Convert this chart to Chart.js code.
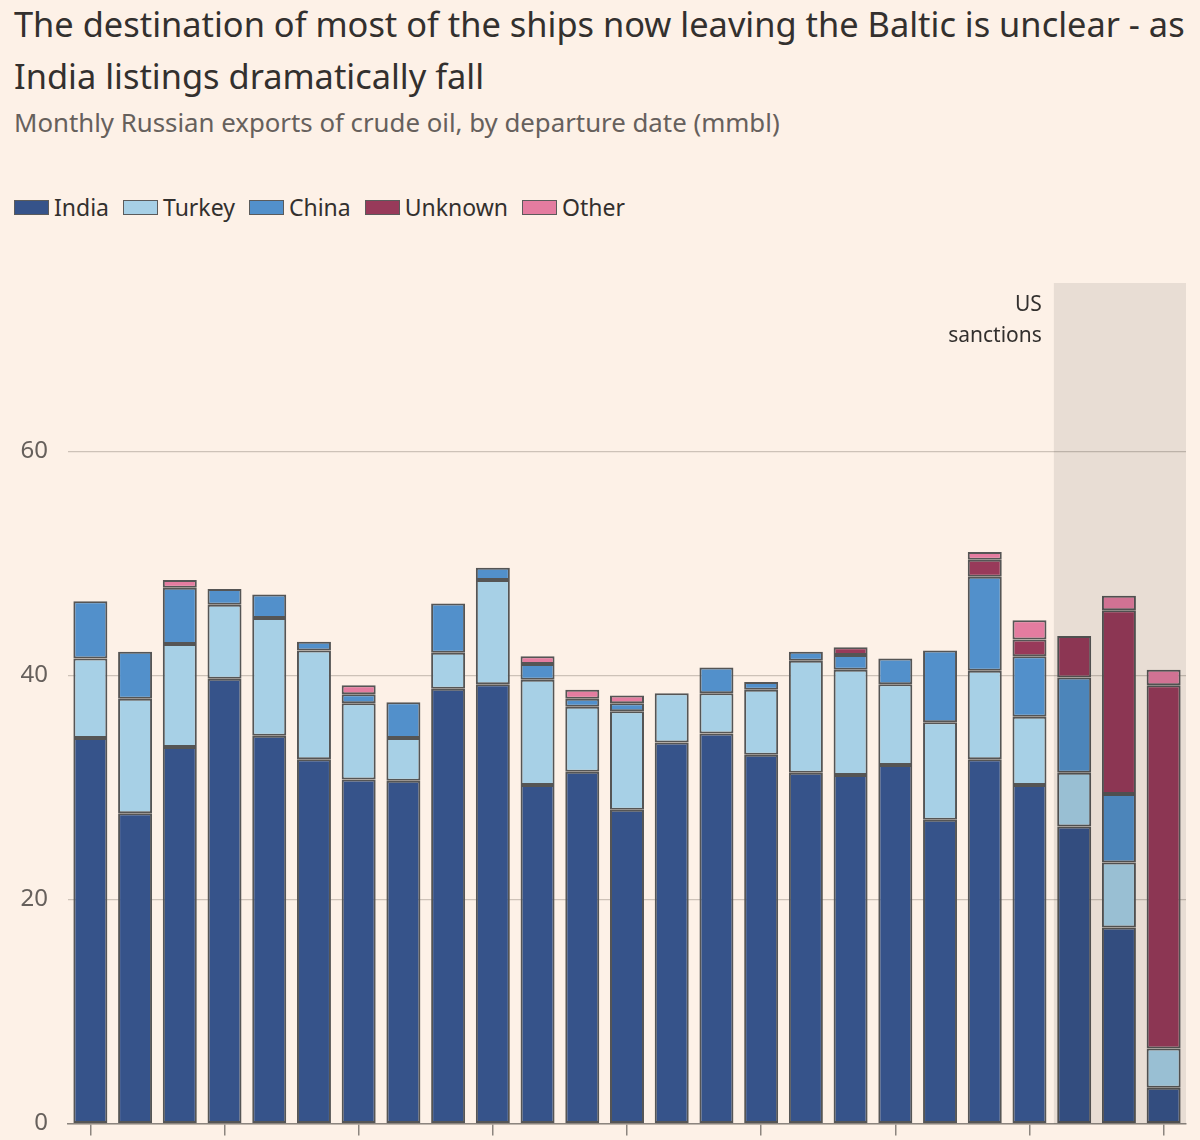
<!DOCTYPE html>
<html>
<head>
<meta charset="utf-8">
<script src="https://cdn.jsdelivr.net/npm/chart.js@4.4.1/dist/chart.umd.min.js"></script>
<style>
  body { margin: 0; background: #fdf1e7; width: 1200px; height: 1140px; overflow: hidden;
         font-family: 'Noto Sans', sans-serif; color: #33302e; position: relative; }
  h1 { position: absolute; left: 14px; top: -2px; margin: 0; font-weight: 400; font-size: 34.4px;
       line-height: 52px; width: 1186px; }
  .sub { position: absolute; left: 14px; top: 104px; font-size: 25.8px; color: #66605c; }
  .legend { position: absolute; left: 14px; top: 191px; display: flex; align-items: center;
            font-size: 23px; color: #33302e; }
  .legend span.item { display: flex; align-items: center; margin-right: 14px; }
  .legend i { display: inline-block; width: 33px; height: 13px; border: 1.5px solid #5b5b5b;
              margin-right: 5px; }
  /* 画布下沿超出页面，被 body 裁掉（y 轴标签会额外占用底部留白） */
  #chart { position: absolute; left: 0; top: 240px; }
</style>
</head>
<body>
<h1>The destination of most of the ships now leaving the Baltic is unclear - as India listings dramatically fall</h1>
<div class="sub">Monthly Russian exports of crude oil, by departure date (mmbl)</div>
<div class="legend" id="legend"></div>
<canvas id="chart" width="1200" height="918"></canvas>
<script>
// 月份（2024-01 ~ 2026-01）
const months = ['Jan 2024','Feb 2024','Mar 2024','Apr 2024','May 2024','Jun 2024','Jul 2024','Aug 2024',
  'Sep 2024','Oct 2024','Nov 2024','Dec 2024','Jan 2025','Feb 2025','Mar 2025','Apr 2025','May 2025',
  'Jun 2025','Jul 2025','Aug 2025','Sep 2025','Oct 2025','Nov 2025','Dec 2025','Jan 2026'];

// 各目的地出口量 (mmbl)
const india   = [34.4,27.7,33.6,39.7,34.6,32.5,30.7,30.6,38.8,39.2,30.2,31.4,28.0,34.0,34.8,32.9,31.3,31.1,32.0,27.1,32.5,30.2,26.5,17.5,3.2];
const turkey  = [7.1,10.2,9.2,6.6,10.5,9.7,6.8,3.8,3.2,9.3,9.4,5.8,8.8,4.4,3.6,5.8,10.0,9.4,7.2,8.7,7.9,6.1,4.8,5.8,3.5];
const china   = [5.1,4.2,5.0,1.4,2.1,0.8,0.8,3.2,4.4,1.1,1.4,0.7,0.7,null,2.3,0.7,0.8,1.3,2.3,6.4,8.4,5.4,8.5,6.1,null];
const unknown = [null,null,null,null,null,null,null,null,null,null,null,null,null,null,null,null,null,0.7,null,null,1.5,1.5,3.7,16.4,32.4];
const other   = [null,null,0.7,null,null,null,0.8,null,null,null,0.7,0.8,0.7,null,null,null,null,null,null,null,0.7,1.7,null,1.3,1.4];

const seriesNames = ['India','Turkey','China','Unknown','Other'];
const seriesColors = ['#36538a','#a7d0e6','#5290cb','#983a5a','#e47ca0'];
const yTicks = [0, 20, 40, 60];
const shadeFrom = 22; // 制裁后首个月份索引

const TEXT = '#33302e';
const MUTED = '#66605c';
const FONT = "'Noto Sans', sans-serif";

// HTML 图例
document.getElementById('legend').innerHTML = seriesNames.map((n, i) =>
  `<span class="item"><i style="background:${seriesColors[i]}"></i>${n}</span>`).join('');

// 阴影区域 + 注释
const sanctionsShade = {
  id: 'sanctionsShade',
  afterDatasetsDraw(chart) {
    const { ctx, chartArea, scales: { x } } = chart;
    const left = (x.getPixelForValue(shadeFrom - 1) + x.getPixelForValue(shadeFrom)) / 2 + 2;
    ctx.save();
    ctx.fillStyle = 'rgba(20,20,20,0.09)';
    ctx.fillRect(left, chartArea.top, chartArea.right - left, chartArea.bottom - chartArea.top);
    ctx.fillStyle = TEXT;
    ctx.font = `21px ${FONT}`;
    ctx.textAlign = 'right';
    ctx.textBaseline = 'middle';
    ctx.fillText('US', left - 12, chartArea.top + 22);
    ctx.fillText('sanctions', left - 12, chartArea.top + 53);
    ctx.restore();
  }
};

const datasets = [india, turkey, china, unknown, other].map((data, i) => ({
  label: seriesNames[i],
  data,
  backgroundColor: seriesColors[i],
  borderColor: '#555555',
  borderWidth: 2,
  borderSkipped: false,
  categoryPercentage: 1,
  barPercentage: 0.76,
}));

new Chart(document.getElementById('chart'), {
  type: 'bar',
  data: { labels: months, datasets },
  plugins: [sanctionsShade],
  options: {
    responsive: false,
    animation: false,
    layout: { padding: { top: 43, left: 14, right: 14, bottom: 5 } },
    scales: {
      x: {
        stacked: true,
        offset: true,
        afterFit: s => { s.height = 12; },
        grid: {
          offset: false,
          drawOnChartArea: false,
          tickLength: 12,
          lineWidth: 1.5,
          color: c => (c.index % 3 === 0 ? '#8c857f' : 'transparent'),
        },
        border: { display: true, color: '#8c857f', width: 1.5 },
        ticks: { display: false },
      },
      y: {
        stacked: true,
        min: 0, max: 75,
        afterBuildTicks: s => { s.ticks = yTicks.map(v => ({ value: v })); },
        afterFit: s => { s.width = 54; },
        grid: { color: '#cdc2b8', lineWidth: 1.2, drawTicks: false },
        border: { display: false },
        ticks: { color: MUTED, font: { family: FONT, size: 24 }, padding: 20 },
      },
    },
    plugins: {
      legend: { display: false },
      tooltip: { enabled: false },
    },
  },
});
</script>
</body>
</html>
